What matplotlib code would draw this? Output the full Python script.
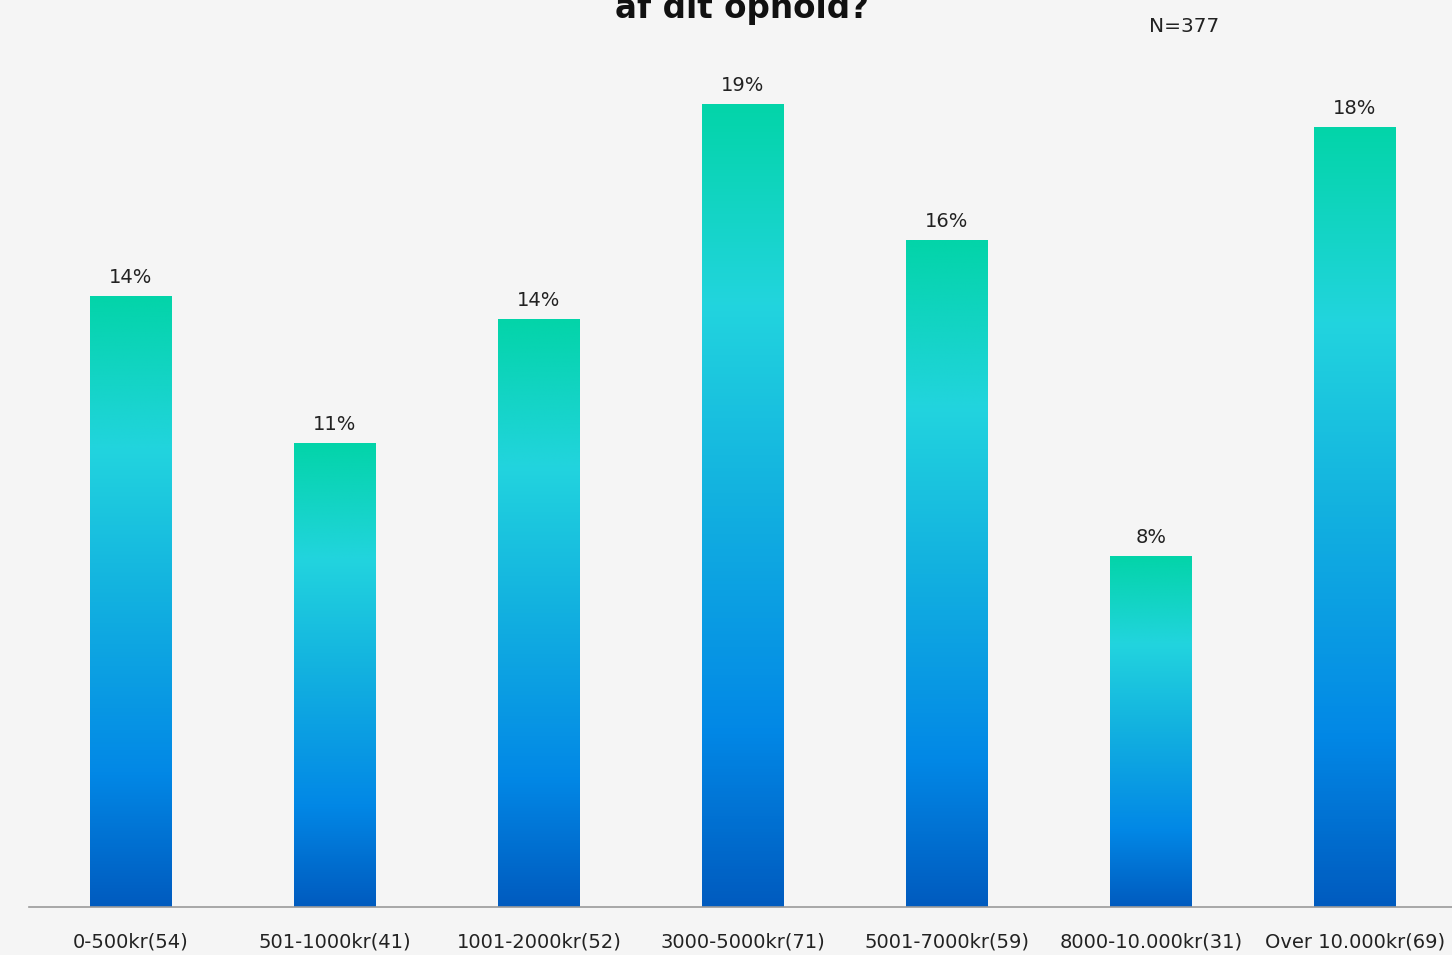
import numpy as np
import matplotlib
matplotlib.use("Agg")
import matplotlib.pyplot as plt
from matplotlib.colors import LinearSegmentedColormap

# categories and respondent counts (N=377)
categories = ["0-500kr(54)", "501-1000kr(41)", "1001-2000kr(52)", "3000-5000kr(71)",
              "5001-7000kr(59)", "8000-10.000kr(31)", "Over 10.000kr(69)"]
counts = [54, 41, 52, 71, 59, 31, 69]
total = 377
pct = [c / total * 100 for c in counts]
labels = ["14%", "11%", "14%", "19%", "16%", "8%", "18%"]

plt.rcParams['font.family'] = ['DejaVu Sans']

bg = "#f5f5f5"
fig = plt.figure(figsize=(14.52, 9.55), dpi=100, facecolor=bg)
ax = fig.add_axes([29 / 1452, 48 / 955, 1428 / 1452, 852 / 955])
ax.set_facecolor(bg)

# vertical gradient, bottom -> top
cmap = LinearSegmentedColormap.from_list(
    "grad", [(0.0, "#005bbf"), (0.22, "#0288e6"), (0.5, "#12b0e0"),
             (0.75, "#22d4de"), (1.0, "#03d4a9")])
grad = np.linspace(0, 1, 256).reshape(-1, 1)

w = 0.40
for i, v in enumerate(pct):
    ax.imshow(grad, cmap=cmap, origin="lower", aspect="auto",
              extent=[i - w / 2, i + w / 2, 0, v], zorder=2)
    ax.text(i, v + 0.22, labels[i], ha="center", va="bottom",
            fontsize=14, color="#222222")

ax.set_xlim(-0.5, 6.5)
ax.set_ylim(0, 20)
ax.set_xticks(range(len(categories)))
ax.set_xticklabels(categories, fontsize=14, color="#222222")
ax.tick_params(axis="x", length=0, pad=18)
ax.set_yticks([])
for s in ["top", "right", "left"]:
    ax.spines[s].set_visible(False)
ax.spines["bottom"].set_color("#9a9a9a")
ax.spines["bottom"].set_linewidth(1.2)

# title is cut off at the top edge, as in the original
fig.text(742 / 1452, 1 - 18 / 955, "af dit ophold?", ha="center", va="baseline",
         fontsize=23.5, fontweight="bold", color="#111111")
fig.text(1184 / 1452, 1 - 26 / 955, "N=377", ha="center", va="center",
         fontsize=14.5, color="#222222")

fig.savefig("out.png", dpi=100, facecolor=bg)
